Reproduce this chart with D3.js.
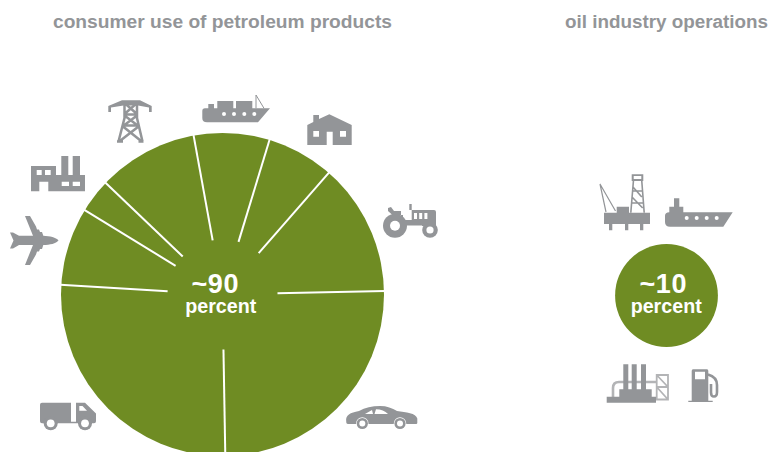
<!DOCTYPE html>
<html><head><meta charset="utf-8">
<script src="https://cdnjs.cloudflare.com/ajax/libs/d3/7.8.5/d3.min.js"></script>
<style>html,body{margin:0;padding:0;background:#fff}svg{display:block}text{font-family:"Liberation Sans",Arial,sans-serif;font-weight:bold}</style>
</head><body><svg id="c" width="771" height="452"></svg>
<script>
// data
const groupTitles = ["consumer use of petroleum products", "oil industry operations"];
const groupLabels = ["~90", "~10"];
const groupUnit = "percent";
const groupShares = [90.8, 9.2];
const sectorNames = ["marine", "residential", "agriculture", "cars", "trucks", "aviation", "industry", "electricity"];
const sectorValues = [6.8, 6.05, 11.9, 22.55, 23.6, 7.0, 3.05, 9.0];

const W = 771, H = 452, GREEN = "#6f8c23", GRAY = "#939598", LIGHT = "#b3b4b6";
const svg = d3.select("#c").attr("viewBox", [0, 0, W, H]);
const rScale = d3.scaleSqrt().domain([0, groupShares[0]]).range([0, 161.5]);
const centers = [[222.5, 294.5], [666.5, 295.5]];
const titleX = [222.5, 666.5], titleSize = [19.2, 18.85];

// titles
svg.selectAll("text.title").data(groupTitles).join("text").attr("class", "title")
  .attr("x", (d, i) => titleX[i]).attr("y", 28).attr("text-anchor", "middle")
  .attr("font-size", (d, i) => titleSize[i]).attr("fill", GRAY).text(d => d);

// circles
svg.selectAll("circle.total").data(groupShares).join("circle").attr("class", "total")
  .attr("cx", (d, i) => centers[i][0]).attr("cy", (d, i) => centers[i][1])
  .attr("r", d => rScale(d)).attr("fill", GREEN);

// dividers between sectors
const startA = -10.3 * Math.PI / 180;
const pie = d3.pie().sort(null).startAngle(startA).endAngle(startA + 2 * Math.PI);
const arcs = pie(sectorValues);
const rInner = 55, rOuter = rScale(groupShares[0]) + 1;
svg.append("g").attr("transform", `translate(${centers[0]})`)
  .selectAll("line").data(arcs).join("line")
  .attr("x1", d => rInner * Math.sin(d.startAngle)).attr("y1", d => -rInner * Math.cos(d.startAngle))
  .attr("x2", d => rOuter * Math.sin(d.startAngle)).attr("y2", d => -rOuter * Math.cos(d.startAngle))
  .attr("stroke", "#fff").attr("stroke-width", 2);

// centre labels
const labelStart = [191.5, 639.5], unitCenter = [220.8, 666.2];
groupLabels.forEach((t, i) => {
  svg.append("text").attr("x", labelStart[i]).attr("y", 292.7).attr("fill", "#fff")
    .attr("font-size", 27).attr("letter-spacing", 0.6).text(t);
  svg.append("text").attr("x", unitCenter[i]).attr("y", 312.7).attr("fill", "#fff").attr("text-anchor", "middle")
    .attr("font-size", 19.7).text(groupUnit);
});

// pictograms (page-space outlines)
const g = svg.append("g").attr("class", "icons");
const shape = (d, fill = GRAY) => g.append("path").attr("d", d).attr("fill", fill).attr("fill-rule", "evenodd");
const strokeShape = (d, w, col = GRAY) => g.append("path").attr("d", d).attr("fill", "none").attr("stroke", col).attr("stroke-width", w);
const disc = (x, y, r, fill = GRAY) => g.append("circle").attr("cx", x).attr("cy", y).attr("r", r).attr("fill", fill);

// airplane
shape("M58.5,240.4C56,237.5 50,236 43.3,235.8L42,232L40,232L39,229.5L37,229.5L36,226.5L30,216H25L33,235.8L19,235.8L13,232.5H10L13.5,240.4L10,248.5H13L19,245L33,245L25,265H30L36,254.5L37,251.5L39,251.5L40,249L42,249L43.3,245C50,244.8 56,243.5 58.5,240.4Z");

// pylon
shape("M108.3,112V106L122,100.3H140L151.7,106V112H149V107.5L138,105.5H123.5L111,107.5V112Z");
strokeShape("M124.5,102V118L118.5,141.5M137,102V118L142.5,141.5M124.5,103L137,114M137,103L124.5,114M124.5,114.5H137M124.5,115.5L137,125M137,115.5L124.5,125M123.5,125.5H138M123,126.5L140.5,140.5M138.5,126.5L120.5,140.5M117,141.5H123M138.5,141.5H143.5", 2.5);

// factory
shape("M31,166H56V175H61.3V156H68.3V175H72.7V156H80V175H85V191.3H48.3V181.7H39.3V191.3H31ZM36.7,170V175H41.7V170ZM45,170V175H50.7V170ZM61.7,181.7V186H69V181.7ZM72.7,181.7V186H80V181.7Z");

// cargo ship
shape("M205,108.3H208.3V104H214V108.3H217.3V101H233.3V108.3H236V101H252.3V108.3H270L258,122.3H207Q202.3,122.3 202.3,118V111Q202.3,108.3 205,108.3Z");
strokeShape("M256,95V108.3M256,95L264,108.3", 1);
[224, 234, 244.3, 254.3].forEach(x => disc(x, 114, 2, "#fff"));

// house
shape("M307.3,125L313.3,122V115H319V119L329.3,114.3L351.7,125V145H332.7V131.7H326.7V145H307.3ZM313.3,131V136.7H319V131ZM340,131V136.7H346V131Z");

// tractor
disc(395, 225.7, 12); disc(395, 225.7, 5, "#fff");
disc(430, 230, 7.8); disc(430, 230, 3.6, "#fff");
shape("M388,208L391,207L394,211H401V216H393.5L388,211ZM398,215H403V220H411.7V210H409.3V204H411.7V210H434Q436,210 436,212V226H422V225.5H406V222H398ZM414,213V219H417V213ZM419.2,213V219H422.2V213ZM424.4,213V219H427.4V213Z");

// truck
shape("M42,402.7H71V423.3H42Q40,423.3 40,421.3V404.7Q40,402.7 42,402.7ZM71,421.7H76V423.3H71Z");
shape("M76,402.7H85L96,413.5V421.3Q96,423.3 94,423.3H76ZM79.3,406V410.7H87L82.5,406Z");
[50.7, 85].forEach(x => { disc(x, 423.3, 7); disc(x, 423.3, 3.9, "#fff"); });

// car
shape("M346.2,421C345.5,415.5 350,412.5 359,411C365,407.5 372,406 380,406C387,406 392,408 397,411C406,412.5 416,413 417.3,418.5V423C417.3,424 416,424 415,424H348C346.5,424 346.2,423 346.2,421ZM365,414H373L372,410ZM374.5,414H388C385,411 381,409.3 376,409.3Z");
[362.3, 400].forEach(x => { disc(x, 423.5, 6.2, "#fff"); disc(x, 423.5, 5.6); disc(x, 423.5, 3, "#fff"); });

// oil rig
shape("M604,212.7H616.7V206.7H629V212.7H650V224H643.3V230.3H640V224H628.3V230.3H625V224H612.3V230.3H609V224H604Z");
shape("M631.7,174.3H643.3V181H631.7ZM633.7,176V179H641.3V176Z");
strokeShape("M633.5,180L630.8,212.7M641.7,180L644.2,212.7M633,187L641.8,197M632,197L642.7,208M632.5,191H642.3M631.6,203H643.4", 1.6);
strokeShape("M600,184L615.5,211M600,184L606,212", 1.2);

// tanker
shape("M669.3,212.3V206.7H674V198.3H679.3V206.7H683.3V212.3H732.7L723.3,226.7H670Q665,226.7 665,222V216Q665,212.3 669.3,212.3Z");
[686.7, 696.7, 706.7, 716.7].forEach(x => disc(x, 218, 2, "#fff"));

// refinery
strokeShape("M613,397V388Q613,382 619,382H657", 2.6, LIGHT);
strokeShape("M656.7,375H668V399.5H656.7ZM656.7,387H668M656.7,375L668,387M656.7,387L668,399.5", 1.8, LIGHT);
shape("M606.7,396.7H619.3V389.3H623.3V364.3H628.3V389.3H631.7V364.3H636.7V389.3H641V364.3H646V389.3H651.7V396.7H656V402.7H606.7Z");

// fuel pump
shape("M693,369.3H707Q708.3,369.3 708.3,371V400.7H712.7V402H688.3V400.7H691.7V371Q691.7,369.3 693,369.3ZM695,371.7V379.3H705V371.7Z");
strokeShape("M708,374.5Q717,377 717,385V392Q717,396.5 714,396.5Q711,396.5 711,392.5V384", 2.6);
</script></body></html>
